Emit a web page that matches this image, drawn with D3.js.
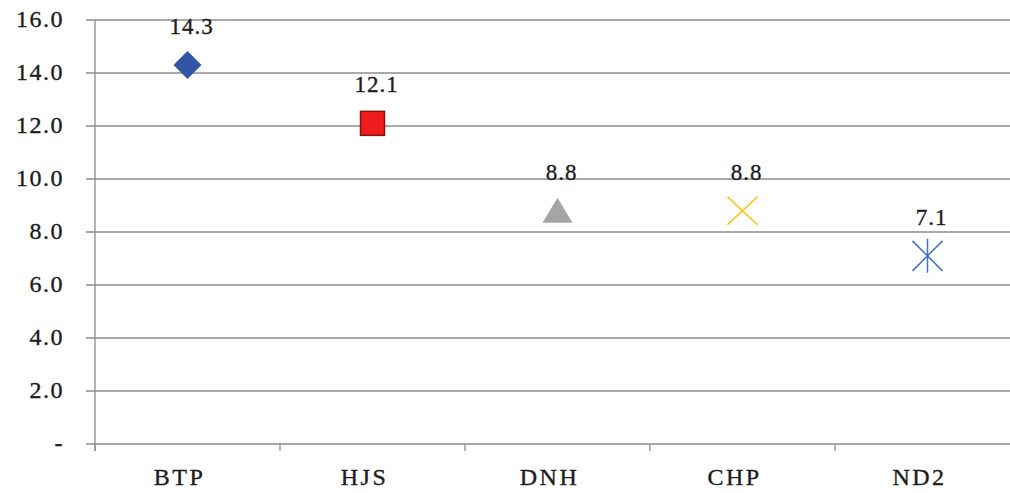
<!DOCTYPE html>
<html>
<head>
<meta charset="utf-8">
<script src="https://cdn.jsdelivr.net/npm/d3@7"></script>
<style>
  body { margin: 0; background: #fff; }
  svg { display: block; }
  text { font-family: 'Liberation Serif', 'Times New Roman', serif; fill: #1c1c1c; stroke: #1c1c1c; stroke-width: 0.35px; }
</style>
</head>
<body>
<div id="chart"></div>
<script>
const categories = ["BTP", "HJS", "DNH", "CHP", "ND2"];
const values = [14.3, 12.1, 8.8, 8.8, 7.1];
const yTicks = [0, 2, 4, 6, 8, 10, 12, 14, 16];
const symbols = ["diamond", "square", "triangle", "x", "asterisk"];
const colors = ["#2F55A4", "#EE1C1C", "#A5A5A5", "#FFC000", "#4472C4"];

const width = 1010, height = 493;
const margin = { top: 20, right: -10, bottom: 49, left: 95 };

const svg = d3.select("#chart").append("svg")
  .attr("width", width)
  .attr("height", height);

const x = d3.scaleBand()
  .domain(categories)
  .range([margin.left, width - margin.right]);

const y = d3.scaleLinear()
  .domain([0, 16])
  .range([height - margin.bottom, margin.top]);

// gridlines
svg.append("g")
  .selectAll("line")
  .data(yTicks)
  .join("line")
  .attr("x1", margin.left - 9)
  .attr("x2", width - margin.right)
  .attr("y1", d => y(d))
  .attr("y2", d => y(d))
  .attr("stroke", "#8c8c8c")
  .attr("stroke-width", 1.3);

// y labels
svg.append("g")
  .selectAll("text")
  .data(yTicks)
  .join("text")
  .attr("x", 64)
  .attr("y", d => y(d) - 1)
  .attr("dy", "0.35em")
  .attr("text-anchor", "end")
  .style("font-size", "24px")
  .style("letter-spacing", "1.5px")
  .text(d => d === 0 ? "-" : d3.format(".1f")(d));

// y axis line
svg.append("line")
  .attr("x1", margin.left).attr("x2", margin.left)
  .attr("y1", y(16)).attr("y2", y(0) + 7)
  .attr("stroke", "#8c8c8c")
  .attr("stroke-width", 1.3);

// category boundary ticks
svg.append("g")
  .selectAll("line")
  .data(categories)
  .join("line")
  .attr("x1", d => x(d))
  .attr("x2", d => x(d))
  .attr("y1", y(0))
  .attr("y2", y(0) + 7)
  .attr("stroke", "#8c8c8c")
  .attr("stroke-width", 1.3);

// category labels
svg.append("g")
  .selectAll("text")
  .data(categories)
  .join("text")
  .attr("x", d => x(d) + x.bandwidth() / 2 - 8)
  .attr("y", 485)
  .attr("text-anchor", "middle")
  .style("font-size", "24px")
  .style("letter-spacing", "2.5px")
  .text(d => d);

// markers
const pts = categories.map((c, i) => ({ c, v: values[i], s: symbols[i], col: colors[i] }));

const marks = svg.append("g")
  .selectAll("g")
  .data(pts)
  .join("g")
  .attr("transform", d => `translate(${x(d.c) + x.bandwidth() / 2},${y(d.v)})`);

marks.each(function(d) {
  const g = d3.select(this);
  if (d.s === "diamond") {
    g.append("path").attr("d", "M0,-14L14,0L0,14L-14,0Z").attr("fill", d.col);
  } else if (d.s === "square") {
    g.append("rect").attr("x", -12).attr("y", -12).attr("width", 24).attr("height", 24)
      .attr("fill", d.col).attr("stroke", "#8B1010").attr("stroke-width", 1.5);
  } else if (d.s === "triangle") {
    g.append("path").attr("d", "M0,-13L15,12L-15,12Z").attr("fill", d.col);
  } else if (d.s === "x") {
    g.append("path").attr("d", "M-15,-14L15,14M-15,14L15,-14")
      .attr("stroke", d.col).attr("stroke-width", 1.5).attr("fill", "none");
  } else {
    g.append("path").attr("d", "M-15,-15L15,15M-15,15L15,-15M0,-17L0,17")
      .attr("stroke", d.col).attr("stroke-width", 1.5).attr("fill", "none");
  }
});

// data labels
svg.append("g")
  .selectAll("text")
  .data(pts)
  .join("text")
  .attr("x", d => x(d.c) + x.bandwidth() / 2 + 4)
  .attr("y", d => y(d.v) - 31)
  .attr("text-anchor", "middle")
  .style("font-size", "23px")
  .style("letter-spacing", "1px")
  .text(d => d3.format(".1f")(d.v));
</script>
</body>
</html>
